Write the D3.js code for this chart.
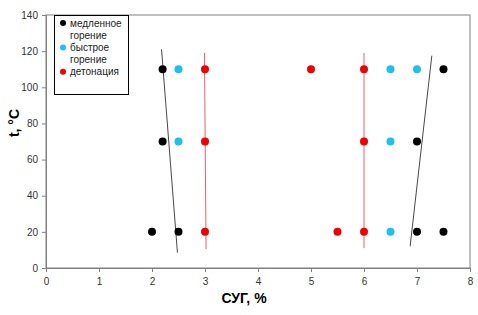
<!DOCTYPE html>
<html>
<head>
<meta charset="utf-8">
<script src="https://cdn.jsdelivr.net/npm/d3@7"></script>
<style>
  body { margin: 0; background: #fff; }
  svg { font-family: "Liberation Sans", Arial, sans-serif; }
</style>
</head>
<body>
<div class="chart"></div>
<script>
// data: [СУГ %, t °C]
const slowBurn = [[2.2, 110], [7.5, 110], [2.2, 70], [7, 70], [2, 20], [2.5, 20], [7, 20], [7.5, 20]];
const fastBurn = [[2.5, 110], [6.5, 110], [7, 110], [2.5, 70], [6.5, 70], [6.5, 20]];
const detonation = [[3, 110], [5, 110], [6, 110], [3, 70], [6, 70], [3, 20], [5.5, 20], [6, 20]];

// boundary lines
const blackLines = [[[2.18, 121], [2.48, 8.5]], [[7.28, 117.5], [6.87, 12]]];
const redLines = [[[2.99, 119], [3.02, 10.5]], [[6.0, 119], [6.0, 11]]];

const xTicks = [0, 1, 2, 3, 4, 5, 6, 7, 8];
const yTicks = [0, 20, 40, 60, 80, 100, 120, 140];

const legendItems = [
  { lines: ['медленное', 'горение'], color: '#000000' },
  { lines: ['быстрое', 'горение'], color: '#1ec0f0' },
  { lines: ['детонация'], color: '#f00000' }
];

const width = 478, height = 315;
const x = d3.scaleLinear().domain([0, 8]).range([46, 470]);
const y = d3.scaleLinear().domain([0, 140]).range([268, 15]);

const svg = d3.select('.chart')
              .append('svg')
              .attr('width', width)
              .attr('height', height);

// frame
svg.append('rect')
  .attr('x', x(0)).attr('y', y(140))
  .attr('width', x(8) - x(0)).attr('height', y(0) - y(140))
  .attr('fill', 'none')
  .attr('stroke', '#808080')
  .attr('stroke-width', 1);

// axes
const xAxis = svg.append('g')
  .attr('transform', `translate(0,${y(0)})`)
  .call(d3.axisBottom(x).tickValues(xTicks).tickSize(4).tickPadding(6).tickFormat(d3.format('d')));
const yAxis = svg.append('g')
  .attr('transform', `translate(${x(0)},0)`)
  .call(d3.axisLeft(y).tickValues(yTicks).tickSize(4).tickPadding(4).tickFormat(d3.format('d')));

[xAxis, yAxis].forEach(g => {
  g.select('.domain').attr('stroke', '#808080');
  g.selectAll('.tick line').attr('stroke', '#808080');
  g.selectAll('.tick text').attr('fill', '#333').style('font-size', '10px')
    .style('font-family', '"Liberation Sans", Arial, sans-serif');
});

// axis titles
svg.append('text')
  .attr('x', 244).attr('y', 303)
  .attr('text-anchor', 'middle')
  .style('font-size', '14px').style('font-weight', 'bold')
  .text('СУГ, %');
svg.append('text')
  .attr('transform', 'translate(19,123) rotate(-90)')
  .attr('text-anchor', 'middle')
  .style('font-size', '14px').style('font-weight', 'bold')
  .text('t, °C');

// boundary lines
const line = d3.line().x(d => x(d[0])).y(d => y(d[1]));
svg.append('g').selectAll('path')
  .data(blackLines)
  .join('path')
    .attr('d', line)
    .attr('fill', 'none')
    .attr('stroke', '#333')
    .attr('stroke-width', 0.9);
svg.append('g').selectAll('path')
  .data(redLines)
  .join('path')
    .attr('d', line)
    .attr('fill', 'none')
    .attr('stroke', '#f06060')
    .attr('stroke-width', 1);

// points
const series = [
  { data: slowBurn, color: '#000000' },
  { data: fastBurn, color: '#1ec0f0' },
  { data: detonation, color: '#f00000' }
];
series.forEach(s => {
  svg.append('g').selectAll('circle')
    .data(s.data)
    .join('circle')
      .attr('cx', d => x(d[0]))
      .attr('cy', d => y(d[1]))
      .attr('r', 4)
      .attr('fill', s.color);
});

// legend
const legend = svg.append('g');
legend.append('rect')
  .attr('x', 54.5).attr('y', 15.5)
  .attr('width', 74).attr('height', 79)
  .attr('fill', '#fff')
  .attr('stroke', '#000')
  .attr('stroke-width', 1);
let ly = 23;
legendItems.forEach(item => {
  legend.append('circle')
    .attr('cx', 63).attr('cy', ly)
    .attr('r', 3)
    .attr('fill', item.color);
  item.lines.forEach(t => {
    legend.append('text')
      .attr('x', 70).attr('y', ly + 3.5)
      .style('font-size', '10px')
      .attr('fill', '#222')
      .text(t);
    ly += 12.2;
  });
});
</script>
</body>
</html>
